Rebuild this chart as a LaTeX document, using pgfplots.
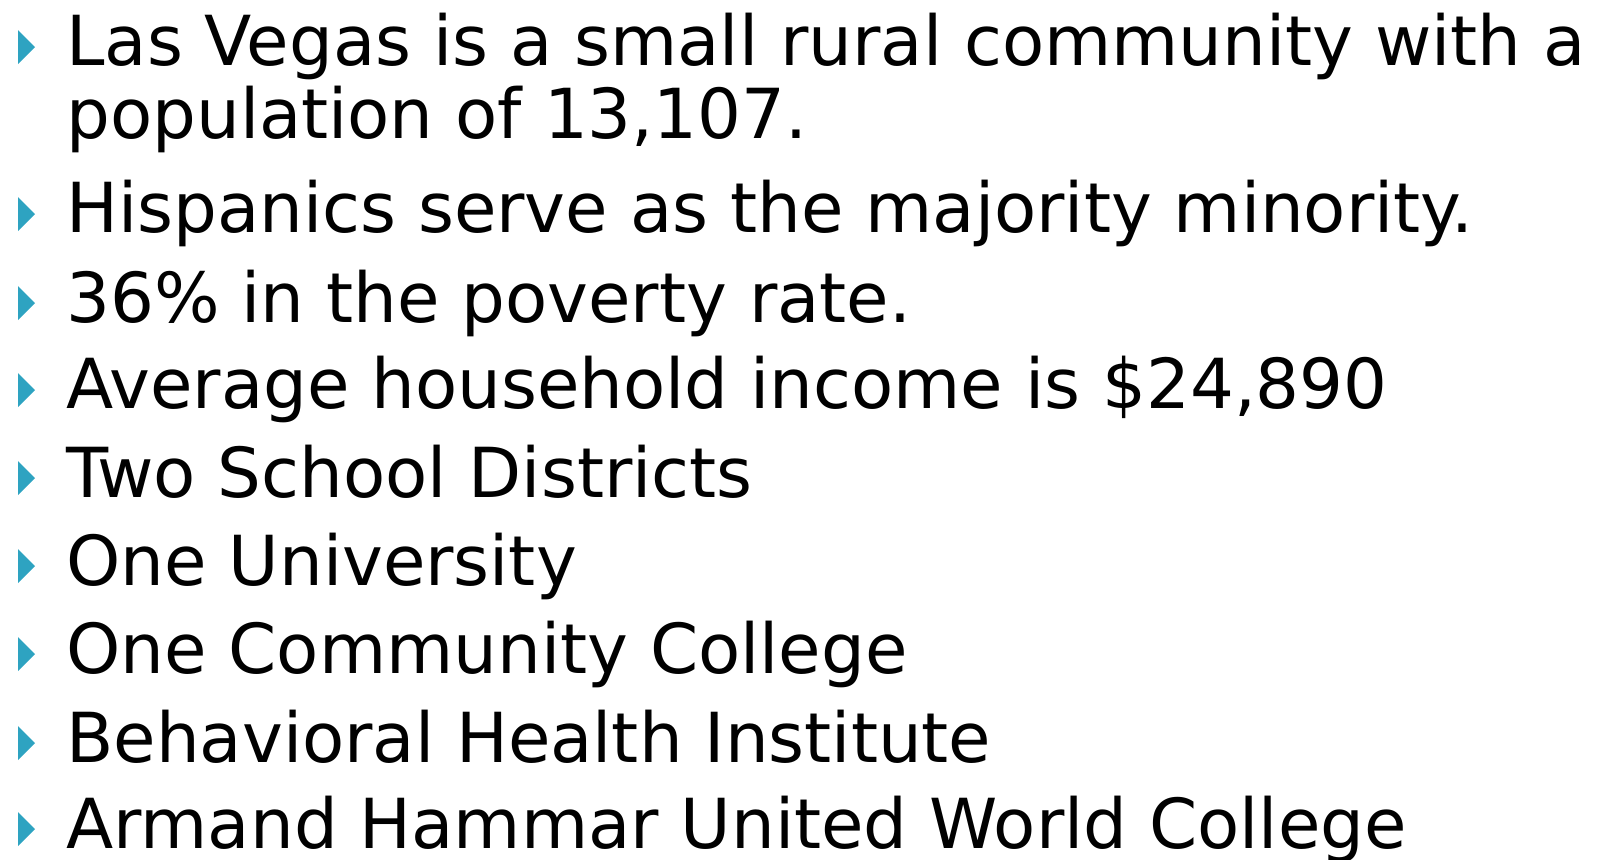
\documentclass[border=0pt]{standalone}
\usepackage{fontspec}
\setmainfont{DejaVu Sans}
\usepackage{pgfplots}
\pgfplotsset{compat=1.18}
\definecolor{bul}{HTML}{2EA3C1}
% bottom edge (baseline) of each text line, in pixels from the top
\pgfplotstableread{
x y
18 30
35 47
18 64
nan nan
18 197
35 214
18 231
nan nan
18 286
35 303
18 320
nan nan
18 373
35 390
18 407
nan nan
18 461
35 478
18 495
nan nan
18 549
35 566
18 583
nan nan
18 637
35 654
18 671
nan nan
18 726
35 743
18 760
nan nan
18 812
35 829
18 846
}\bullets
\begin{document}
\begin{tikzpicture}
\begin{axis}[width=805pt, height=429.5pt, scale only axis, hide axis,
  xmin=0, xmax=1610, ymin=0, ymax=859, y dir=reverse, clip=false,
  unbounded coords=jump]
\path[use as bounding box] (axis cs:0,0) rectangle (axis cs:1610,859);
\addplot[fill=bul, draw=none] table {\bullets};
\begin{scope}[every node/.style={anchor=base west, inner sep=0pt, font=\fontsize{34.5}{40}\selectfont}]
\node at (axis cs:66,65) {Las Vegas is a small rural community with a};
\node at (axis cs:66,138) {population of 13,107.};
\node at (axis cs:66,232) {Hispanics serve as the majority minority.};
\node at (axis cs:66,322) {36\% in the poverty rate.};
\node at (axis cs:66,408) {Average household income is \$24,890};
\node at (axis cs:66,497) {Two School Districts};
\node at (axis cs:66,585) {One University};
\node at (axis cs:66,673) {One Community College};
\node at (axis cs:66,762) {Behavioral Health Institute};
\node at (axis cs:66,848) {Armand Hammar United World College};
\end{scope}
\end{axis}
\end{tikzpicture}
\end{document}
